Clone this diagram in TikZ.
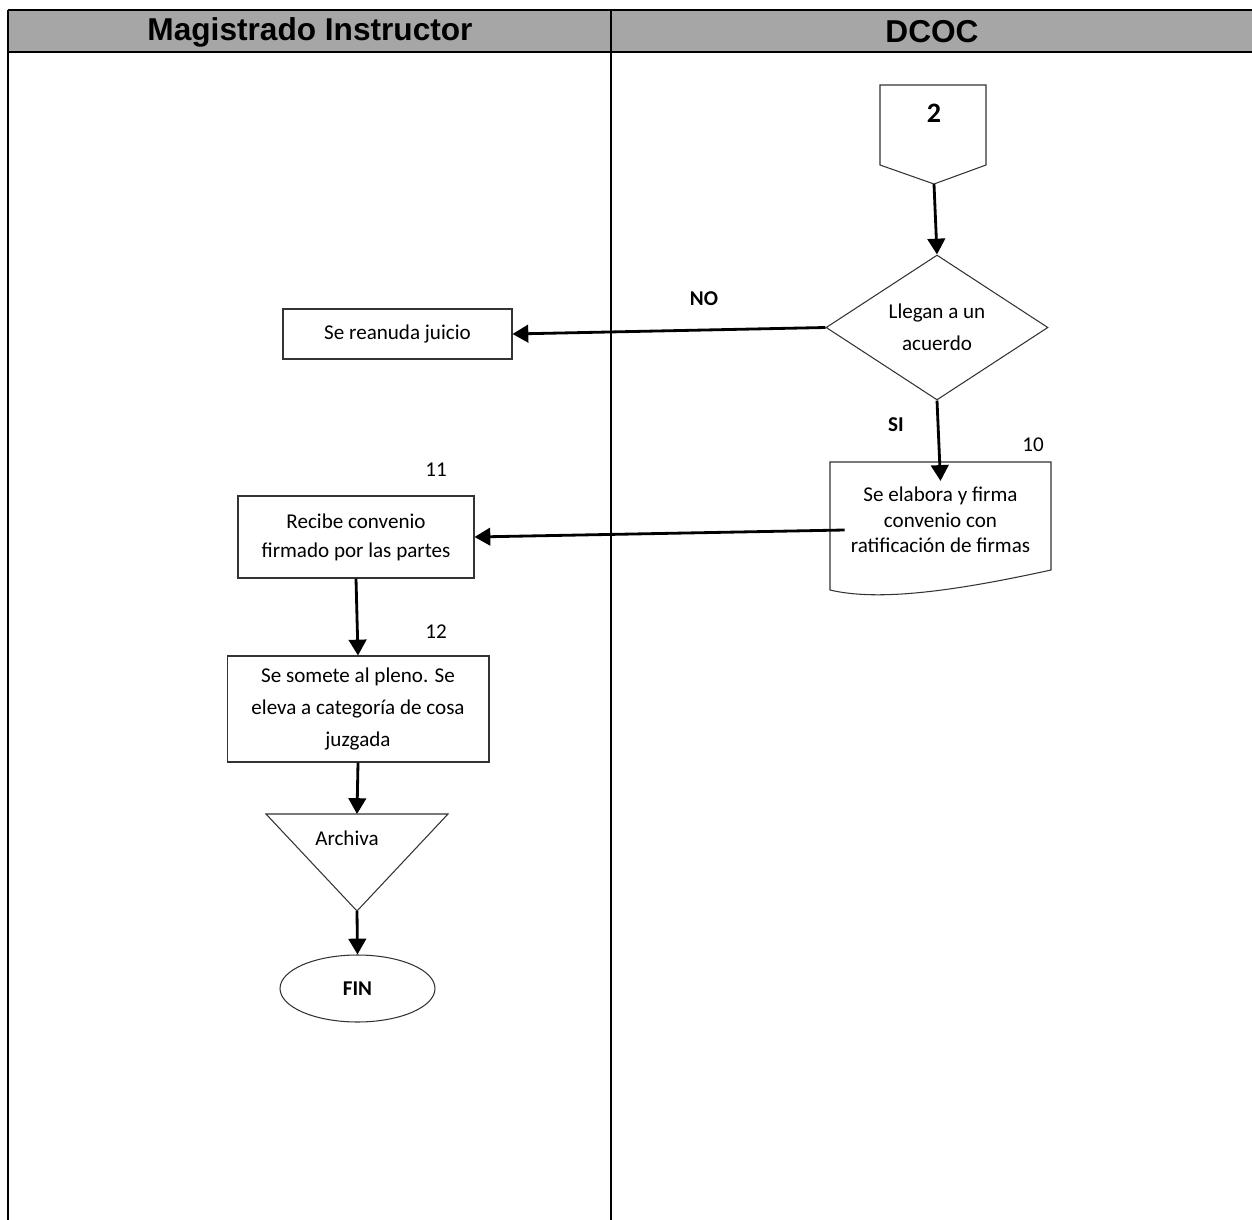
\documentclass[tikz,border=0pt]{standalone}
\usepackage{fontspec}
\setmainfont{Carlito}
\newfontfamily\headfont{Liberation Sans}
\usetikzlibrary{shapes.geometric,arrows.meta,positioning}
\definecolor{lanegray}{HTML}{A6A6A6}
\tikzset{every node/.style={font=\fontsize{12}{14.5}\selectfont},
proc/.style={draw=black!80, line width=0.6pt, align=center, inner sep=0pt},
flow/.style={line width=1.6pt, -{Triangle[length=9pt,width=10pt]}},
lane/.style={line width=1.4pt},
head/.style={font=\headfont\bfseries\fontsize{18}{20}\selectfont},
tag/.style={font=\bfseries\fontsize{12}{14.5}\selectfont}
}

\begin{document}
\begin{tikzpicture}[x=0.02cm, y=-0.02cm]
        \useasboundingbox (0,0) rectangle (1252,1220);
        % swimlanes
        \fill[lanegray] (8,10) rectangle (1256,52);
        \draw[lane] (8,10) -- (1256,10) (8,52) -- (1256,52);
        \draw[lane] (8,10) -- (8,1222) (611,10) -- (611,1222);
        \node[head] (lane_mi) at (310,32) {Magistrado Instructor};
        \node[head] (lane_dc) at (932,32) {DCOC};

        % DCOC
        \node[tag, font=\bfseries\fontsize{16}{18}\selectfont] (c_2) at (934,113) {2};
        \draw[black!80, line width=0.6pt] (880,85) -- (986,85) -- (986,165) -- (934,184) -- (880,165) -- cycle;
        \coordinate (c_2tip) at (934,184);

        \node[proc, diamond, minimum width=4.44cm, minimum height=2.9cm,
              font=\fontsize{12}{18}\selectfont] (q_dec) at (937,327.5) {Llegan a un\\ acuerdo};

        \node[align=center] (q_10) at (940.5,520) {Se elabora y firma\\ convenio con\\ ratificación de firmas};
        \draw[black!80, line width=0.6pt] (830,462) -- (830,590)
              .. controls (880,602) and (960,590) .. (1051,570) -- (1051,462) -- cycle;
        \node (n_10) at (1033,445) {10};

        % Magistrado Instructor
        \node[proc, minimum width=4.58cm, minimum height=1cm] (q_jui) at (397.5,334) {Se reanuda juicio};
        \node[proc, minimum width=4.72cm, minimum height=1.64cm,
              font=\fontsize{12}{16.5}\selectfont] (q_11) at (356,537) {Recibe convenio\\ firmado por las partes};
        \node (n_11) at (436,470) {11};
        \node[proc, minimum width=5.24cm, minimum height=2.12cm,
              font=\fontsize{12}{18}\selectfont] (q_12) at (358,709) {Se somete al pleno. Se\\ eleva a categoría de cosa\\ juzgada};
        \node (n_12) at (436,632) {12};

        \draw[black!80, line width=0.6pt] (266,814) -- (448,814) -- (357,911) -- cycle;
        \coordinate (arch_top) at (357,814);
        \coordinate (arch_tip) at (357,911);
        \node (q_arch) at (347,838) {Archiva};

        \node[proc, ellipse, minimum width=3.1cm, minimum height=1.34cm, font=\bfseries\fontsize{12}{14.5}\selectfont] (q_fin) at (357.5,988.5) {FIN};

        % flow
        \draw[flow] (c_2tip) -- (q_dec.north);
        \draw[flow] (q_dec.west) -- (q_jui.east);
        \node[tag] (lbl_no) at (704,299) {NO};
        \draw[flow] (q_dec.south) -- (q_10.north);
        \node[tag] (lbl_si) at (896,425) {SI};
        \draw[flow] ([yshift=-0.2cm]q_10.west) -- (q_11.east);
        \draw[flow] (q_11.south) -- (q_12.north);
        \draw[flow] (q_12.south) -- (arch_top);
        \draw[flow] (arch_tip) -- (q_fin.north);
      \end{tikzpicture}
\end{document}
